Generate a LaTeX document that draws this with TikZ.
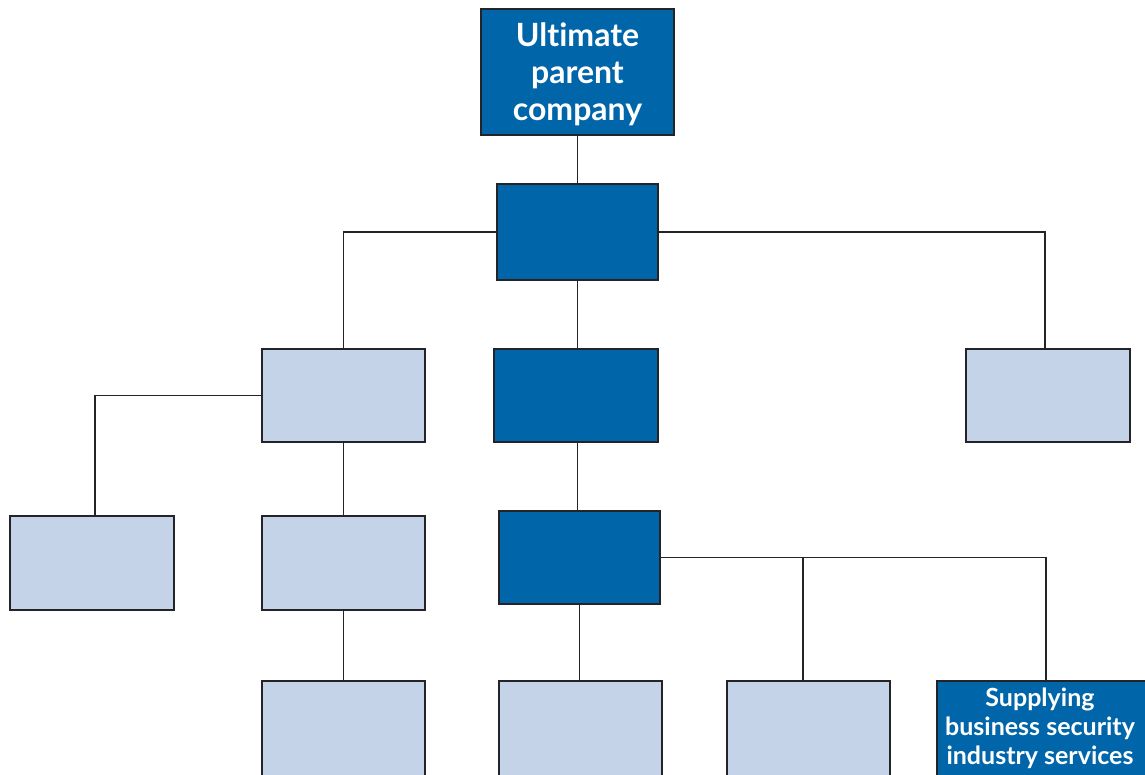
\documentclass[tikz,border=0pt]{standalone}
\usepackage{fontspec}
\setmainfont[Ligatures=NoCommon]{Lato}
\usetikzlibrary{calc}
\definecolor{darkblue}{RGB}{0,102,169}
\definecolor{lightblue}{RGB}{196,211,232}
\definecolor{edge}{RGB}{35,35,40}
\tikzset{
  box/.style={rectangle, draw=edge, line width=1.5pt, inner sep=0pt},
  darkbox/.style={box, fill=darkblue},
  lightbox/.style={box, fill=lightblue},
  boxtext/.style={text=white, font=\bfseries, align=center, inner sep=0pt},
  link/.style={draw=edge, line width=1.2pt}
}
\begin{document}
\begin{tikzpicture}[x=1pt,y=-1pt]
\useasboundingbox (0,0) rectangle (1145,774);
\clip (0,0) rectangle (1145,774);
% boxes
\node[darkbox, minimum width=193pt, minimum height=126pt] (top) at (577.5,72) {};
\node[boxtext, font=\bfseries\fontsize{32}{37}\selectfont] (toptext) at (577.5,74.5) {Ultimate\\parent\\company};
\node[darkbox, minimum width=161pt, minimum height=96pt] (B1) at (577.5,232) {};
\node[lightbox, minimum width=163pt, minimum height=93pt] (L2l) at (343.5,395.5) {};
\node[darkbox, minimum width=164pt, minimum height=93pt] (L2m) at (576,395.5) {};
\node[lightbox, minimum width=164pt, minimum height=93pt] (L2r) at (1048,395.5) {};
\node[lightbox, minimum width=164pt, minimum height=94pt] (L3a) at (92,563) {};
\node[lightbox, minimum width=163pt, minimum height=94pt] (L3b) at (343.5,563) {};
\node[darkbox, minimum width=161pt, minimum height=93pt] (L3c) at (579.5,557.5) {};
\node[lightbox, minimum width=163pt, minimum height=104pt] (L4a) at (343.5,733) {};
\node[lightbox, minimum width=163pt, minimum height=104pt] (L4b) at (580.5,733) {};
\node[lightbox, minimum width=163pt, minimum height=104pt] (L4c) at (808.5,733) {};
\node[darkbox, minimum width=218pt, minimum height=104pt] (L4d) at (1046,733) {};
\node[boxtext, font=\bfseries\fontsize{25}{29}\selectfont] (L4dtext) at (1040,728) {Supplying\\business security\\industry services};
% connectors
\draw[link] (top.south) -- (B1.north);
\draw[link] (B1.west) -| (L2l.north);
\draw[link] (B1.east) -| ($(L2r.north)+(-3,0)$);
\draw[link] (B1.south) -- (B1.south |- L2m.north);
\draw[link] (L2l.west) -| ($(L3a.north)+(3,0)$);
\draw[link] (L2l.south) -- (L3b.north);
\draw[link] (B1.south |- L2m.south) -- (B1.south |- L3c.north);
\draw[link] (L3b.south) -- (L4a.north);
\draw[link] (L3c.south) -- (L3c.south |- L4b.north);
\draw[link] (L3c.east) -| (L4d.north);
\coordinate (branch) at ($(L4c.north)+(-5.5,0)$);
\draw[link] (L3c.east -| branch) -- (branch);
\end{tikzpicture}
\end{document}
